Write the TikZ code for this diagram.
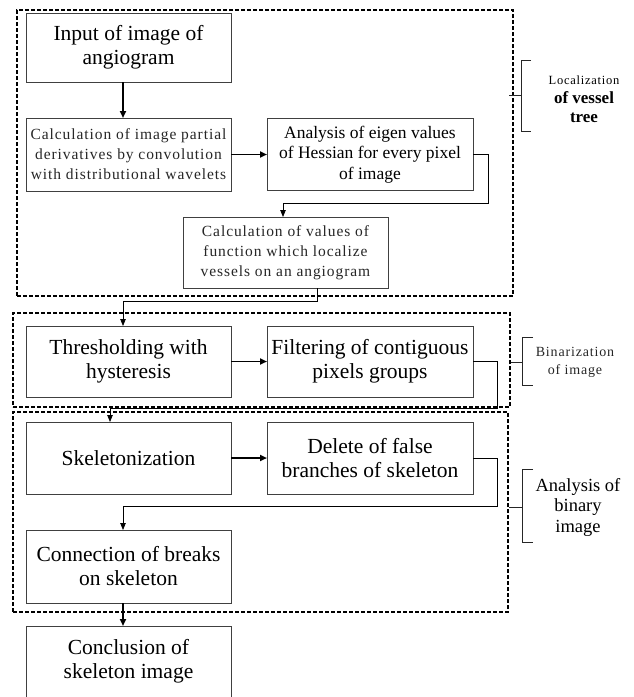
\documentclass[tikz,border=0pt]{standalone}
\usepackage{fontspec}
\setmainfont{Liberation Serif}
\newfontfamily\thinf[LetterSpace=6]{Liberation Serif}
\usetikzlibrary{arrows.meta}
\begin{document}
\begin{tikzpicture}[x=1pt,y=-1pt,
  box/.style={draw=black!75, line width=0.8pt, minimum width=205pt, minimum height=72pt,
    inner sep=0pt, outer sep=0pt, align=center, font=\fontsize{21.5}{24}\selectfont},
  thinbox/.style={box, font=\thinf\fontsize{15.5}{20}\selectfont, text=black!85},
  group/.style={draw=black, line width=1.3pt, dash pattern=on 4pt off 2pt, inner sep=0pt, outer sep=0pt},
  thickarrow/.style={line width=1.8pt, -{Triangle[length=7pt,width=6pt]}},
  thinarrow/.style={line width=0.8pt, -{Triangle[length=7pt,width=5.5pt]}},
  bracket/.style={line width=0.7pt, draw=black!85},
  lbl/.style={align=center, inner sep=0pt}
]
\useasboundingbox (0,0) rectangle (633,697);
\clip (0,0) rectangle (633,697);
% groups
\node[group, minimum width=496pt, minimum height=286pt] (g1) at (265,153) {};
\node[group, minimum width=497pt, minimum height=94pt] (g2) at (261.5,360) {};
\node[group, minimum width=495pt, minimum height=200pt] (g3) at (260.5,512) {};
% boxes
\node[box, minimum height=69pt] (input) at (128.5,47.5) {Input of image of\\angiogram};
\node[thinbox, minimum height=73pt] (calc1) at (128.5,154.5) {Calculation of image partial\\derivatives by convolution\\with distributional wavelets};
\node[box, minimum width=206pt, font=\fontsize{17.5}{20.5}\selectfont] (hess) at (370,154.5) {Analysis of eigen values\\of Hessian for every pixel\\of image};
\node[thinbox, minimum height=71pt] (calc2) at (285.5,252.5) {Calculation of values of\\function which localize\\vessels on an angiogram};
\node[box, minimum height=71pt] (thresh) at (128.5,361.5) {Thresholding with\\hysteresis};
\node[box, minimum width=206pt, minimum height=71pt] (filter) at (370,361.5) {Filtering of contiguous\\pixels groups};
\node[box] (skel) at (128.5,458) {Skeletonization};
\node[box, minimum width=206pt] (del) at (370,458) {Delete of false\\branches of skeleton};
\node[box, minimum height=73pt] (conn) at (128.5,566.5) {Connection of breaks\\on skeleton};
\node[box, minimum height=94pt, text depth=0pt] (concl) at (128.5,673) {};
\node[lbl, font=\fontsize{21.5}{24}\selectfont] (conclt) at (128.5,661) {Conclusion of\\skeleton image};
% coordinates
\coordinate (xa) at (123,0);
\coordinate (xb) at (283,0);
\coordinate (xc) at (110,0);
\coordinate (k1) at (488,203);
\coordinate (k2) at (317,301);
\coordinate (k3) at (497,408);
\coordinate (k4) at (497,506);
% connectors
\draw[thickarrow] (input.south -| xa) -- (calc1.north -| xa);
\draw[thickarrow] (calc1.east) -- (hess.west);
\draw[thinarrow] (hess.east) -| (k1) -| (calc2.north -| xb);
\draw[thinarrow] (calc2.south -| k2) -- (k2) -| (thresh.north -| xa);
\draw[thickarrow] (thresh.east) -- (filter.west);
\draw[thinarrow] (filter.east) -| (k3) -| (skel.north -| xc);
\draw[thickarrow] (skel.east) -- (del.west);
\draw[thinarrow] (del.east) -| (k4) -| (conn.north -| xa);
\draw[thickarrow] (conn.south -| xa) -- (concl.north -| xa);
% brackets
\coordinate (b1t) at (531,60); \coordinate (b1v) at (521,60); \coordinate (b1w) at (521,131); \coordinate (b1b) at (531,131);
\coordinate (b1m) at (509,95); \coordinate (b1n) at (521,95);
\draw[bracket] (b1t) -- (b1v) -- (b1w) -- (b1b);
\draw[bracket] (b1m) -- (b1n);
\coordinate (b2t) at (533,337); \coordinate (b2v) at (522,337); \coordinate (b2w) at (522,385); \coordinate (b2b) at (533,385);
\coordinate (b2m) at (511,362); \coordinate (b2n) at (522,362);
\draw[bracket] (b2t) -- (b2v) -- (b2w) -- (b2b);
\draw[bracket] (b2m) -- (b2n);
\coordinate (b3t) at (533,469); \coordinate (b3v) at (522,469); \coordinate (b3w) at (522,542); \coordinate (b3b) at (533,542);
\coordinate (b3m) at (509,507); \coordinate (b3n) at (522,507);
\draw[bracket] (b3t) -- (b3v) -- (b3w) -- (b3b);
\draw[bracket] (b3m) -- (b3n);
% labels
\node[lbl, font=\fontsize{17}{19}\selectfont] (l1) at (584,99) {{\thinf\fontsize{12.5}{19}\selectfont Localization}\\\textbf{of vessel}\\\textbf{tree}};
\node[lbl, font=\thinf\fontsize{14}{18}\selectfont, text=black!85] (l2) at (575,362) {Binarization\\of image};
\node[lbl, font=\fontsize{18.5}{20.5}\selectfont] (l3) at (578,507) {Analysis of\\binary\\image};
\end{tikzpicture}
\end{document}
